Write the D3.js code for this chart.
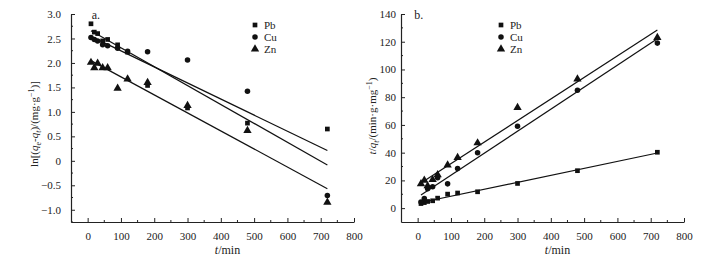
<!DOCTYPE html>
<html>
<head>
<meta charset="utf-8">
<script src="https://cdn.jsdelivr.net/npm/d3@7"></script>
<style>
  body { margin: 0; background: #fff; }
  svg { font-family: "Liberation Serif", "DejaVu Serif", serif; }
  .axis path, .axis line { stroke: #222; }
  .axis text { font-family: "Liberation Serif", serif; font-size: 11px; fill: #222; }
</style>
</head>
<body>
<div id="chart"></div>
<script>
// sampling times (min)
const times = [10, 20, 30, 45, 60, 90, 120, 180, 300, 480, 720];
const metals = ["Pb", "Cu", "Zn"];

// panel a: ln(qe - qt)
const lnPb = [2.80, 2.63, 2.60, 2.45, 2.48, 2.37, 2.22, 1.54, 1.08, 0.77, 0.65];
const lnCu = [2.52, 2.48, 2.45, 2.37, 2.35, 2.30, 2.24, 2.23, 2.06, 1.42, -0.71];
const lnZn = [2.01, 1.90, 1.99, 1.90, 1.90, 1.48, 1.67, 1.60, 1.13, 0.62, -0.85];

// panel b: t / qt
const tqPb = [3.3, 4.0, 4.8, 5.3, 7.2, 10.1, 10.9, 11.8, 17.8, 27.0, 40.3];
const tqCu = [4.5, 7.0, 14.0, 15.5, 22.0, 17.5, 28.5, 40.0, 59.0, 85.0, 119.0];
const tqZn = [17.5, 20.0, 16.0, 20.5, 24.0, 31.0, 36.5, 47.0, 72.5, 93.0, 123.0];

const xTicks = [0, 100, 200, 300, 400, 500, 600, 700, 800];
const yTicksA = [-1.0, -0.5, 0, 0.5, 1.0, 1.5, 2.0, 2.5, 3.0];
const yTicksB = [0, 20, 40, 60, 80, 100, 120, 140];

const width = 728, height = 263;
const svg = d3.select("#chart").append("svg")
  .attr("width", width)
  .attr("height", height);

const symbols = { Pb: d3.symbolSquare, Cu: d3.symbolCircle, Zn: d3.symbolTriangle };
const symSize = { Pb: 22, Cu: 24, Zn: 30 };

// least squares fit
function fit(xs, ys) {
  const mx = d3.mean(xs), my = d3.mean(ys);
  const num = d3.sum(xs, (x, i) => (x - mx) * (ys[i] - my));
  const den = d3.sum(xs, (x) => (x - mx) * (x - mx));
  const b = num / den;
  return (x) => my + b * (x - mx);
}

function panel(opts) {
  const { left, right, top, bottom, xDomain, yDomain, yTicks, yMinor, yFmt, series, tag, labelGap, legendX } = opts;

  const x = d3.scaleLinear().domain(xDomain).range([left, right]);
  const y = d3.scaleLinear().domain(yDomain).range([bottom, top]);

  const g = svg.append("g");

  // minor ticks
  const xMinor = d3.range(50, 800, 100);
  g.append("g").selectAll("line").data(xMinor).join("line")
    .attr("x1", (d) => x(d)).attr("x2", (d) => x(d))
    .attr("y1", bottom).attr("y2", bottom - 2)
    .attr("stroke", "#222");
  g.append("g").selectAll("line").data(yMinor).join("line")
    .attr("x1", left).attr("x2", left + 2)
    .attr("y1", (d) => y(d)).attr("y2", (d) => y(d))
    .attr("stroke", "#222");

  // axes (ticks inward)
  const xAxis = g.append("g")
    .attr("class", "axis")
    .attr("transform", `translate(0,${bottom})`)
    .call(d3.axisBottom(x).tickValues(xTicks).tickSizeInner(-4).tickSizeOuter(0).tickPadding(10));
  xAxis.attr("font-family", "Liberation Serif").attr("font-size", 11);
  xAxis.select(".domain").attr("stroke-width", 1.2);

  const yAxis = g.append("g")
    .attr("class", "axis")
    .attr("transform", `translate(${left},0)`)
    .call(d3.axisLeft(y).tickValues(yTicks).tickSizeInner(-4).tickSizeOuter(0).tickPadding(labelGap).tickFormat(yFmt));
  yAxis.attr("font-family", "Liberation Serif").attr("font-size", 11);
  yAxis.select(".domain").attr("stroke-width", 1.2);

  // fitted lines
  series.forEach((s) => {
    const f = fit(times, s.values);
    g.append("path")
      .attr("d", d3.line().x((d) => x(d)).y((d) => y(f(d)))([10, 720]))
      .attr("fill", "none")
      .attr("stroke", "#111")
      .attr("stroke-width", 1.2);
  });

  // points
  series.forEach((s) => {
    g.append("g").selectAll("path")
      .data(s.values)
      .join("path")
      .attr("transform", (d, i) => `translate(${x(times[i])},${y(d)})`)
      .attr("d", d3.symbol().type(symbols[s.name]).size(symSize[s.name]))
      .attr("fill", "#111");
  });

  // panel tag
  g.append("text")
    .attr("x", x(tag.at))
    .attr("y", top + 5)
    .attr("font-size", 12)
    .attr("fill", "#222")
    .text(tag.text);

  // legend
  const lg = g.append("g").attr("transform", `translate(${legendX},25)`);
  metals.forEach((m, i) => {
    lg.append("path")
      .attr("transform", `translate(0,${i * 12})`)
      .attr("d", d3.symbol().type(symbols[m]).size(symSize[m]))
      .attr("fill", "#111");
    lg.append("text")
      .attr("x", 9)
      .attr("y", i * 12 + 4)
      .attr("font-size", 11)
      .attr("fill", "#222")
      .text(m);
  });

  // x label
  const xl = g.append("text")
    .attr("x", (left + right) / 2 + 15)
    .attr("y", bottom + 32)
    .attr("text-anchor", "middle")
    .attr("font-size", 12)
    .attr("fill", "#222");
  xl.append("tspan").attr("font-style", "italic").text("t");
  xl.append("tspan").text("/min");

  return g;
}

// panel a
const ga = panel({
  left: 71, right: 354, top: 14, bottom: 222,
  xDomain: [-50, 800], yDomain: [-1.25, 3.0],
  yTicks: yTicksA, yMinor: d3.range(-1.25, 3.0, 0.5),
  yFmt: (d) => (d === 0 ? "0" : d3.format(".1f")(d)),
  series: [{ name: "Pb", values: lnPb }, { name: "Cu", values: lnCu }, { name: "Zn", values: lnZn }],
  tag: { text: "a.", at: 12 }, labelGap: 10, legendX: 255
});

const la = ga.append("text")
  .attr("transform", "translate(38,124) rotate(-90)")
  .attr("text-anchor", "middle")
  .attr("font-size", 11)
  .attr("fill", "#222");
la.append("tspan").text("ln[(");
la.append("tspan").attr("font-style", "italic").text("q");
la.append("tspan").attr("font-size", 8).attr("dy", 3).text("e");
la.append("tspan").attr("dy", -3).text("-");
la.append("tspan").attr("font-style", "italic").text("q");
la.append("tspan").attr("font-size", 8).attr("font-style", "italic").attr("dy", 3).text("t");
la.append("tspan").attr("dy", -3).text(")/(mg·g");
la.append("tspan").attr("font-size", 8).attr("dy", -4).text("−1");
la.append("tspan").attr("dy", 4).text(")]");

// panel b
const gb = panel({
  left: 401, right: 684, top: 14, bottom: 222,
  xDomain: [-50, 800], yDomain: [-10, 140],
  yTicks: yTicksB, yMinor: d3.range(10, 140, 20),
  yFmt: d3.format("d"),
  series: [{ name: "Pb", values: tqPb }, { name: "Cu", values: tqCu }, { name: "Zn", values: tqZn }],
  tag: { text: "b.", at: -10 }, labelGap: 5, legendX: 501
});

const lb = gb.append("text")
  .attr("transform", "translate(376,116) rotate(-90)")
  .attr("text-anchor", "middle")
  .attr("font-size", 11)
  .attr("fill", "#222");
lb.append("tspan").attr("font-style", "italic").text("t");
lb.append("tspan").text("/");
lb.append("tspan").attr("font-style", "italic").text("q");
lb.append("tspan").attr("font-size", 8).attr("font-style", "italic").attr("dy", 3).text("t");
lb.append("tspan").attr("dy", -3).text("/(min·g·mg");
lb.append("tspan").attr("font-size", 8).attr("dy", -4).text("−1");
lb.append("tspan").attr("dy", 4).text(")");
</script>
</body>
</html>
